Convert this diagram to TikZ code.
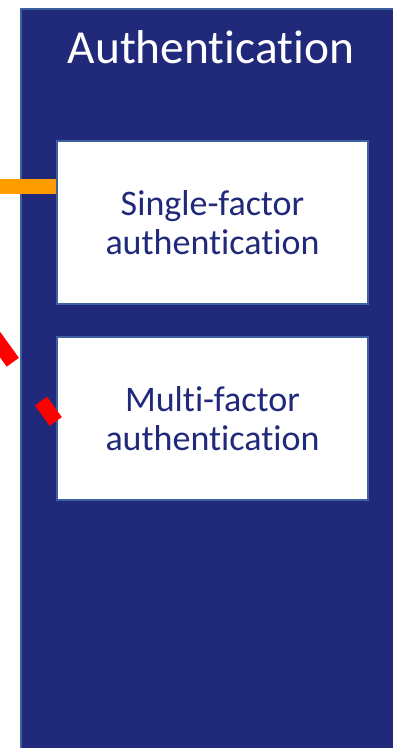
\documentclass[tikz,border=0pt]{standalone}
\usepackage{fontspec}
\setmainfont{Carlito}[Ligatures=NoCommon]
\usepackage{xcolor}
\usepackage{tikz}

\definecolor{navy}{HTML}{212A7A}
\definecolor{edgeblue}{HTML}{3F5F9F}
\definecolor{linkorange}{HTML}{FF9C00}

\begin{document}
\begin{tikzpicture}[x=0.5pt, y=-0.5pt,
        panel/.style={draw=edgeblue, line width=1.25pt, fill=navy},
        box/.style={draw=edgeblue, line width=1.25pt, fill=white, minimum width=155.5pt, minimum height=81.5pt, align=center, text=navy, font=\fontsize{18}{19.5}\selectfont},
        link/.style={line width=7.5pt}
    ]
        \useasboundingbox (0,0) rectangle (392,748);
        \draw[panel] (21,9) rectangle (420,780);
        \node[text=white, font=\fontsize{23.7}{28}\selectfont, anchor=base] (title) at (211,64) {Authentication};
        
        \node[box] (sfa) at (212.5,222.5) {Single-factor\\authentication};
        \node[box] (mfa) at (212.5,418.5) {Multi-factor\\authentication};
        
        % incoming links, their other ends lie off to the left
        \coordinate (sfsrc) at (-20,186.5);
        \coordinate (mfsrc) at (-24.7,310.4);
        \draw[link, linkorange] (sfsrc) -- (sfsrc -| sfa.west);
        \draw[link, red, dash pattern=on 32pt off 24pt] (mfsrc) -- ([yshift=-1.5pt]mfa.west);
    \end{tikzpicture}
\end{document}
